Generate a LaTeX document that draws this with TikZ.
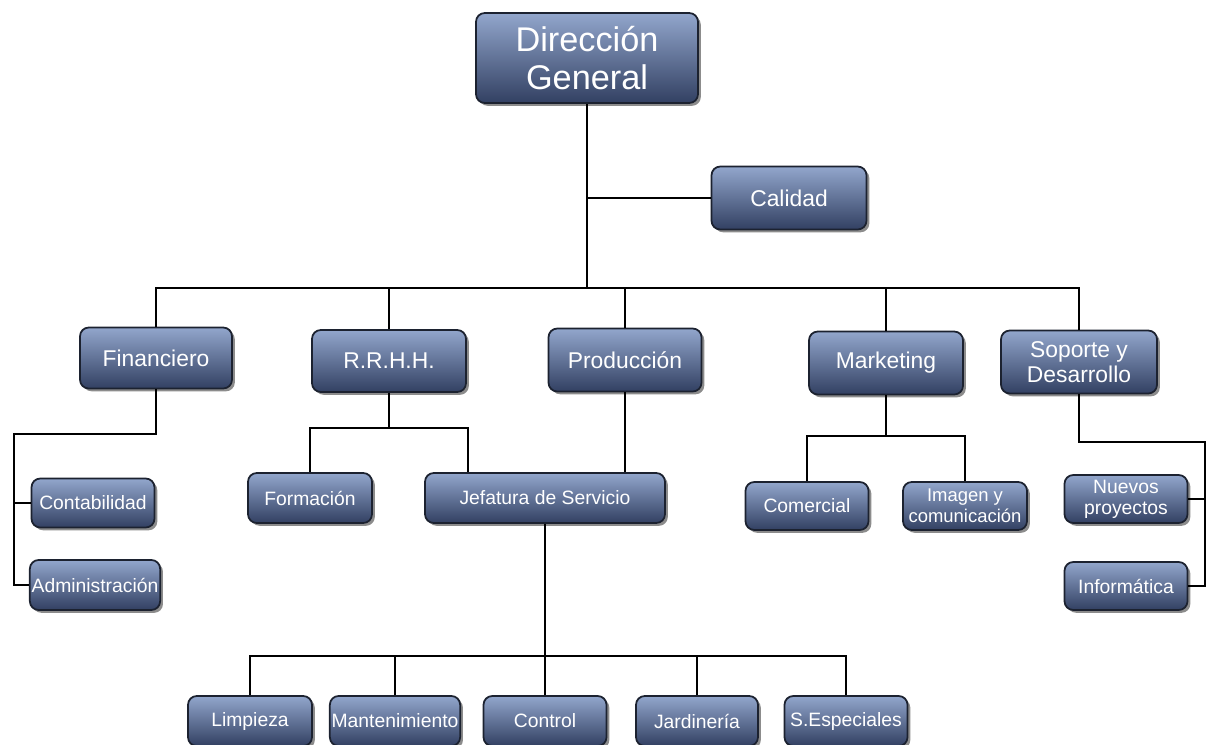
\documentclass[tikz,border=0pt]{standalone}
\usepackage{fontspec}
\setmainfont{Liberation Sans}
\usepackage{tikz}
\usetikzlibrary{positioning}
\usetikzlibrary{calc}
\usetikzlibrary{shadows}
\definecolor{boxtop}{RGB}{146,166,204}
\definecolor{boxmid}{RGB}{108,129,172}
\definecolor{boxbot}{RGB}{50,64,98}
\definecolor{boxline}{RGB}{28,34,48}
\tikzstyle{unit} = [rectangle, rounded corners=5pt, draw=boxline, line width=1pt, top color=boxtop, middle color=boxmid, bottom color=boxbot, text=white, align=center, inner sep=1pt, drop shadow={shadow xshift=1.6pt, shadow yshift=-1.6pt, fill=black, opacity=0.45}]
\tikzstyle{dirbox} = [unit, font=\fontsize{19.5}{21.5}\selectfont]
\tikzstyle{deptbox} = [unit, font=\fontsize{13}{14.5}\selectfont]
\tikzstyle{subbox} = [unit, font=\fontsize{11}{12}\selectfont]
\tikzstyle{conn} = [line width=1.3pt, black]

\begin{document}
\begin{tikzpicture}[x=0.2mm, y=-0.2mm]
\useasboundingbox (0,0) rectangle (1208,744);
% top
\node (DG) [dirbox, minimum width=222*0.2mm, minimum height=90*0.2mm] at (587,58) {Dirección\\General};
\node (Cal) [deptbox, minimum width=155*0.2mm, minimum height=63*0.2mm] at (789,198) {Calidad};
% departments
\node (Fin) [deptbox, minimum width=152*0.2mm, minimum height=61*0.2mm] at (156,358) {Financiero};
\node (RRHH) [deptbox, minimum width=154*0.2mm, minimum height=62*0.2mm] at (389,361) {R.R.H.H.};
\node (Prod) [deptbox, minimum width=153*0.2mm, minimum height=63*0.2mm] at (625,360) {Producción};
\node (Mkt) [deptbox, minimum width=154*0.2mm, minimum height=63*0.2mm] at (886,363) {Marketing};
\node (Sop) [deptbox, minimum width=156*0.2mm, minimum height=63*0.2mm] at (1079,362) {Soporte y\\Desarrollo};
% second level
\node (Cont) [subbox, minimum width=123*0.2mm, minimum height=49*0.2mm] at (93,503) {Contabilidad};
\node (Adm) [subbox, minimum width=125*0.2mm, minimum height=50*0.2mm] at (95,585) {Administración};
\node (Form) [subbox, minimum width=124*0.2mm, minimum height=50*0.2mm] at (310,498) {Formación};
\node (Jef) [subbox, minimum width=240*0.2mm, minimum height=50*0.2mm] at (545,498) {Jefatura de Servicio};
\node (Com) [subbox, minimum width=123*0.2mm, minimum height=48*0.2mm] at (807,506) {Comercial};
\node (Img) [subbox, minimum width=124*0.2mm, minimum height=48*0.2mm, font=\fontsize{10.5}{12}\selectfont] at (965,506) {Imagen y\\comunicación};
\node (Nue) [subbox, minimum width=123*0.2mm, minimum height=48*0.2mm] at (1126,499) {Nuevos\\proyectos};
\node (Inf) [subbox, minimum width=123*0.2mm, minimum height=48*0.2mm] at (1126,586) {Informática};
% service units
\node (Lim) [subbox, minimum width=124*0.2mm, minimum height=50*0.2mm] at (250,721) {Limpieza};
\node (Man) [subbox, minimum width=124*0.2mm, minimum height=50*0.2mm] at (395,721) {Mantenimiento};
\node (Con) [subbox, minimum width=123*0.2mm, minimum height=50*0.2mm] at (545,721) {Control};
\node (Jar) [subbox, minimum width=122*0.2mm, minimum height=50*0.2mm] at (697,721) {Jardinería};
\node (Esp) [subbox, minimum width=123*0.2mm, minimum height=50*0.2mm] at (846,721) {S.Especiales};
% junctions
\coordinate (b0) at (587,288);
\coordinate (f1) at (14,434);
\coordinate (r1) at (389,428);
\coordinate (r2) at (468,428);
\coordinate (m1) at (886,436);
\coordinate (s1) at (1205,442);
\coordinate (j1) at (545,656);
% lines
\draw [conn] (DG) -- (b0);
\draw [conn] (DG |- Cal) -- (Cal);
\draw [conn] (Fin.north) |- (b0) -| (Sop.north);
\foreach \n in {RRHH,Prod,Mkt}
  \draw [conn] (\n.north) -- (\n.north |- b0);
\draw [conn] (Fin.south) |- (f1) |- (Adm.west);
\draw [conn] (f1 |- Cont) -- (Cont.west);
\draw [conn] (RRHH.south) -- (r1);
\draw [conn] (Form.north) |- (r2) -- (r2 |- Jef.north);
\draw [conn] (Prod.south) -- (Prod.south |- Jef.north);
\draw [conn] (Mkt.south) -- (m1);
\draw [conn] (Com.north) |- (m1) -| (Img.north);
\draw [conn] (Sop.south) |- (s1) |- (Inf.east);
\draw [conn] (s1 |- Nue) -- (Nue.east);
\draw [conn] (Jef.south) -- (Con.north);
\draw [conn] (Lim.north) |- (j1) -| (Esp.north);
\foreach \n in {Man,Jar}
  \draw [conn] (\n.north) -- (\n.north |- j1);
\end{tikzpicture}
\end{document}
